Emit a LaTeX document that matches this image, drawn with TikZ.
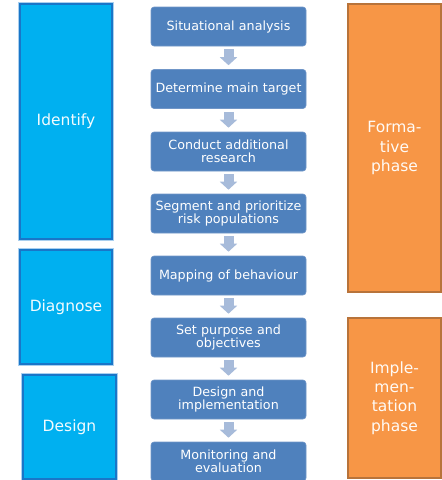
\documentclass[tikz,border=0pt]{standalone}
\usepackage{fontspec}
\setmainfont{DejaVu Sans}
\usetikzlibrary{arrows.meta}
\definecolor{stepblue}{HTML}{4F81BD}
\definecolor{stepedge}{HTML}{7096C8}
\definecolor{arrowblue}{HTML}{A7BBDA}
\definecolor{cyanfill}{HTML}{00B0F0}
\definecolor{cyanedge}{HTML}{1976C8}
\definecolor{cyanglow}{HTML}{A9CFEF}
\definecolor{orangefill}{HTML}{F79646}
\definecolor{orangeedge}{HTML}{B8733A}
\tikzset{
  stepbox/.style={rectangle, rounded corners=3pt, fill=stepblue, draw=stepedge, line width=0.6pt,
    minimum width=155pt, minimum height=39pt, text width=150pt, align=center, inner sep=0pt,
    text=white, font=\fontsize{12.7}{13.5}\selectfont},
  phasebox/.style={rectangle, fill=cyanfill, draw=cyanedge, line width=1.2pt,
    double=cyanglow, double distance=0pt, inner sep=0pt, align=center,
    text=white!95!cyan, font=\fontsize{15.5}{19}\selectfont},
  stagebox/.style={rectangle, fill=orangefill, draw=orangeedge, line width=1.2pt,
    inner sep=0pt, align=center, text=white!96!orange, font=\fontsize{15.5}{19.3}\selectfont},
  flow/.style={draw=arrowblue, line width=10pt, -{Triangle[width=17pt,length=8pt]}},
}
\begin{document}
\begin{tikzpicture}[x=1pt,y=-1pt]
\useasboundingbox (0,0) rectangle (442,480);
% left phase boxes (light outer line)
\foreach \xa/\ya/\xb/\yb in {20/4/112/239, 20/250/112/364, 23/375/116/479}{
  \draw[cyanglow, line width=0.8pt] (\xa-1.2,\ya-1.2) rectangle (\xb+1.2,\yb+1.2);
}
\node[phasebox, draw=cyanedge, double=none, minimum width=92pt, minimum height=235pt] (identify) at (66,121.5) {Identify};
\node[phasebox, draw=cyanedge, double=none, minimum width=92pt, minimum height=114pt] (diagnose) at (66,307) {Diagnose};
\node[phasebox, draw=cyanedge, double=none, minimum width=93pt, minimum height=104pt] (design) at (69.5,427) {Design};
% right stage boxes
\node[stagebox, minimum width=93pt, minimum height=288pt] (formative) at (394.5,148) {Forma-\\tive\\phase};
\node[stagebox, minimum width=93pt, minimum height=160pt] (implement) at (394.5,398) {Imple-\\men-\\tation\\phase};
% steps
\node[stepbox] (s1) at (228.5,26.5) {Situational analysis};
\node[stepbox] (s2) at (228.5,89) {Determine main target};
\node[stepbox] (s3) at (228.5,151.5) {Conduct additional\\research};
\node[stepbox] (s4) at (228.5,213.5) {Segment and prioritize\\risk populations};
\node[stepbox] (s5) at (228.5,275.5) {Mapping of behaviour};
\node[stepbox] (s6) at (228.5,337.5) {Set purpose and\\objectives};
\node[stepbox] (s7) at (228.5,399.5) {Design and\\implementation};
\node[stepbox] (s8) at (228.5,461.5) {Monitoring and\\evaluation};
% block arrows
\foreach \a/\b in {s1/s2, s2/s3, s3/s4, s4/s5, s5/s6, s6/s7, s7/s8}{
  \draw[flow] ([yshift=-3pt]\a.south) -- ([yshift=4pt]\b.north);
}
\end{tikzpicture}
\end{document}
